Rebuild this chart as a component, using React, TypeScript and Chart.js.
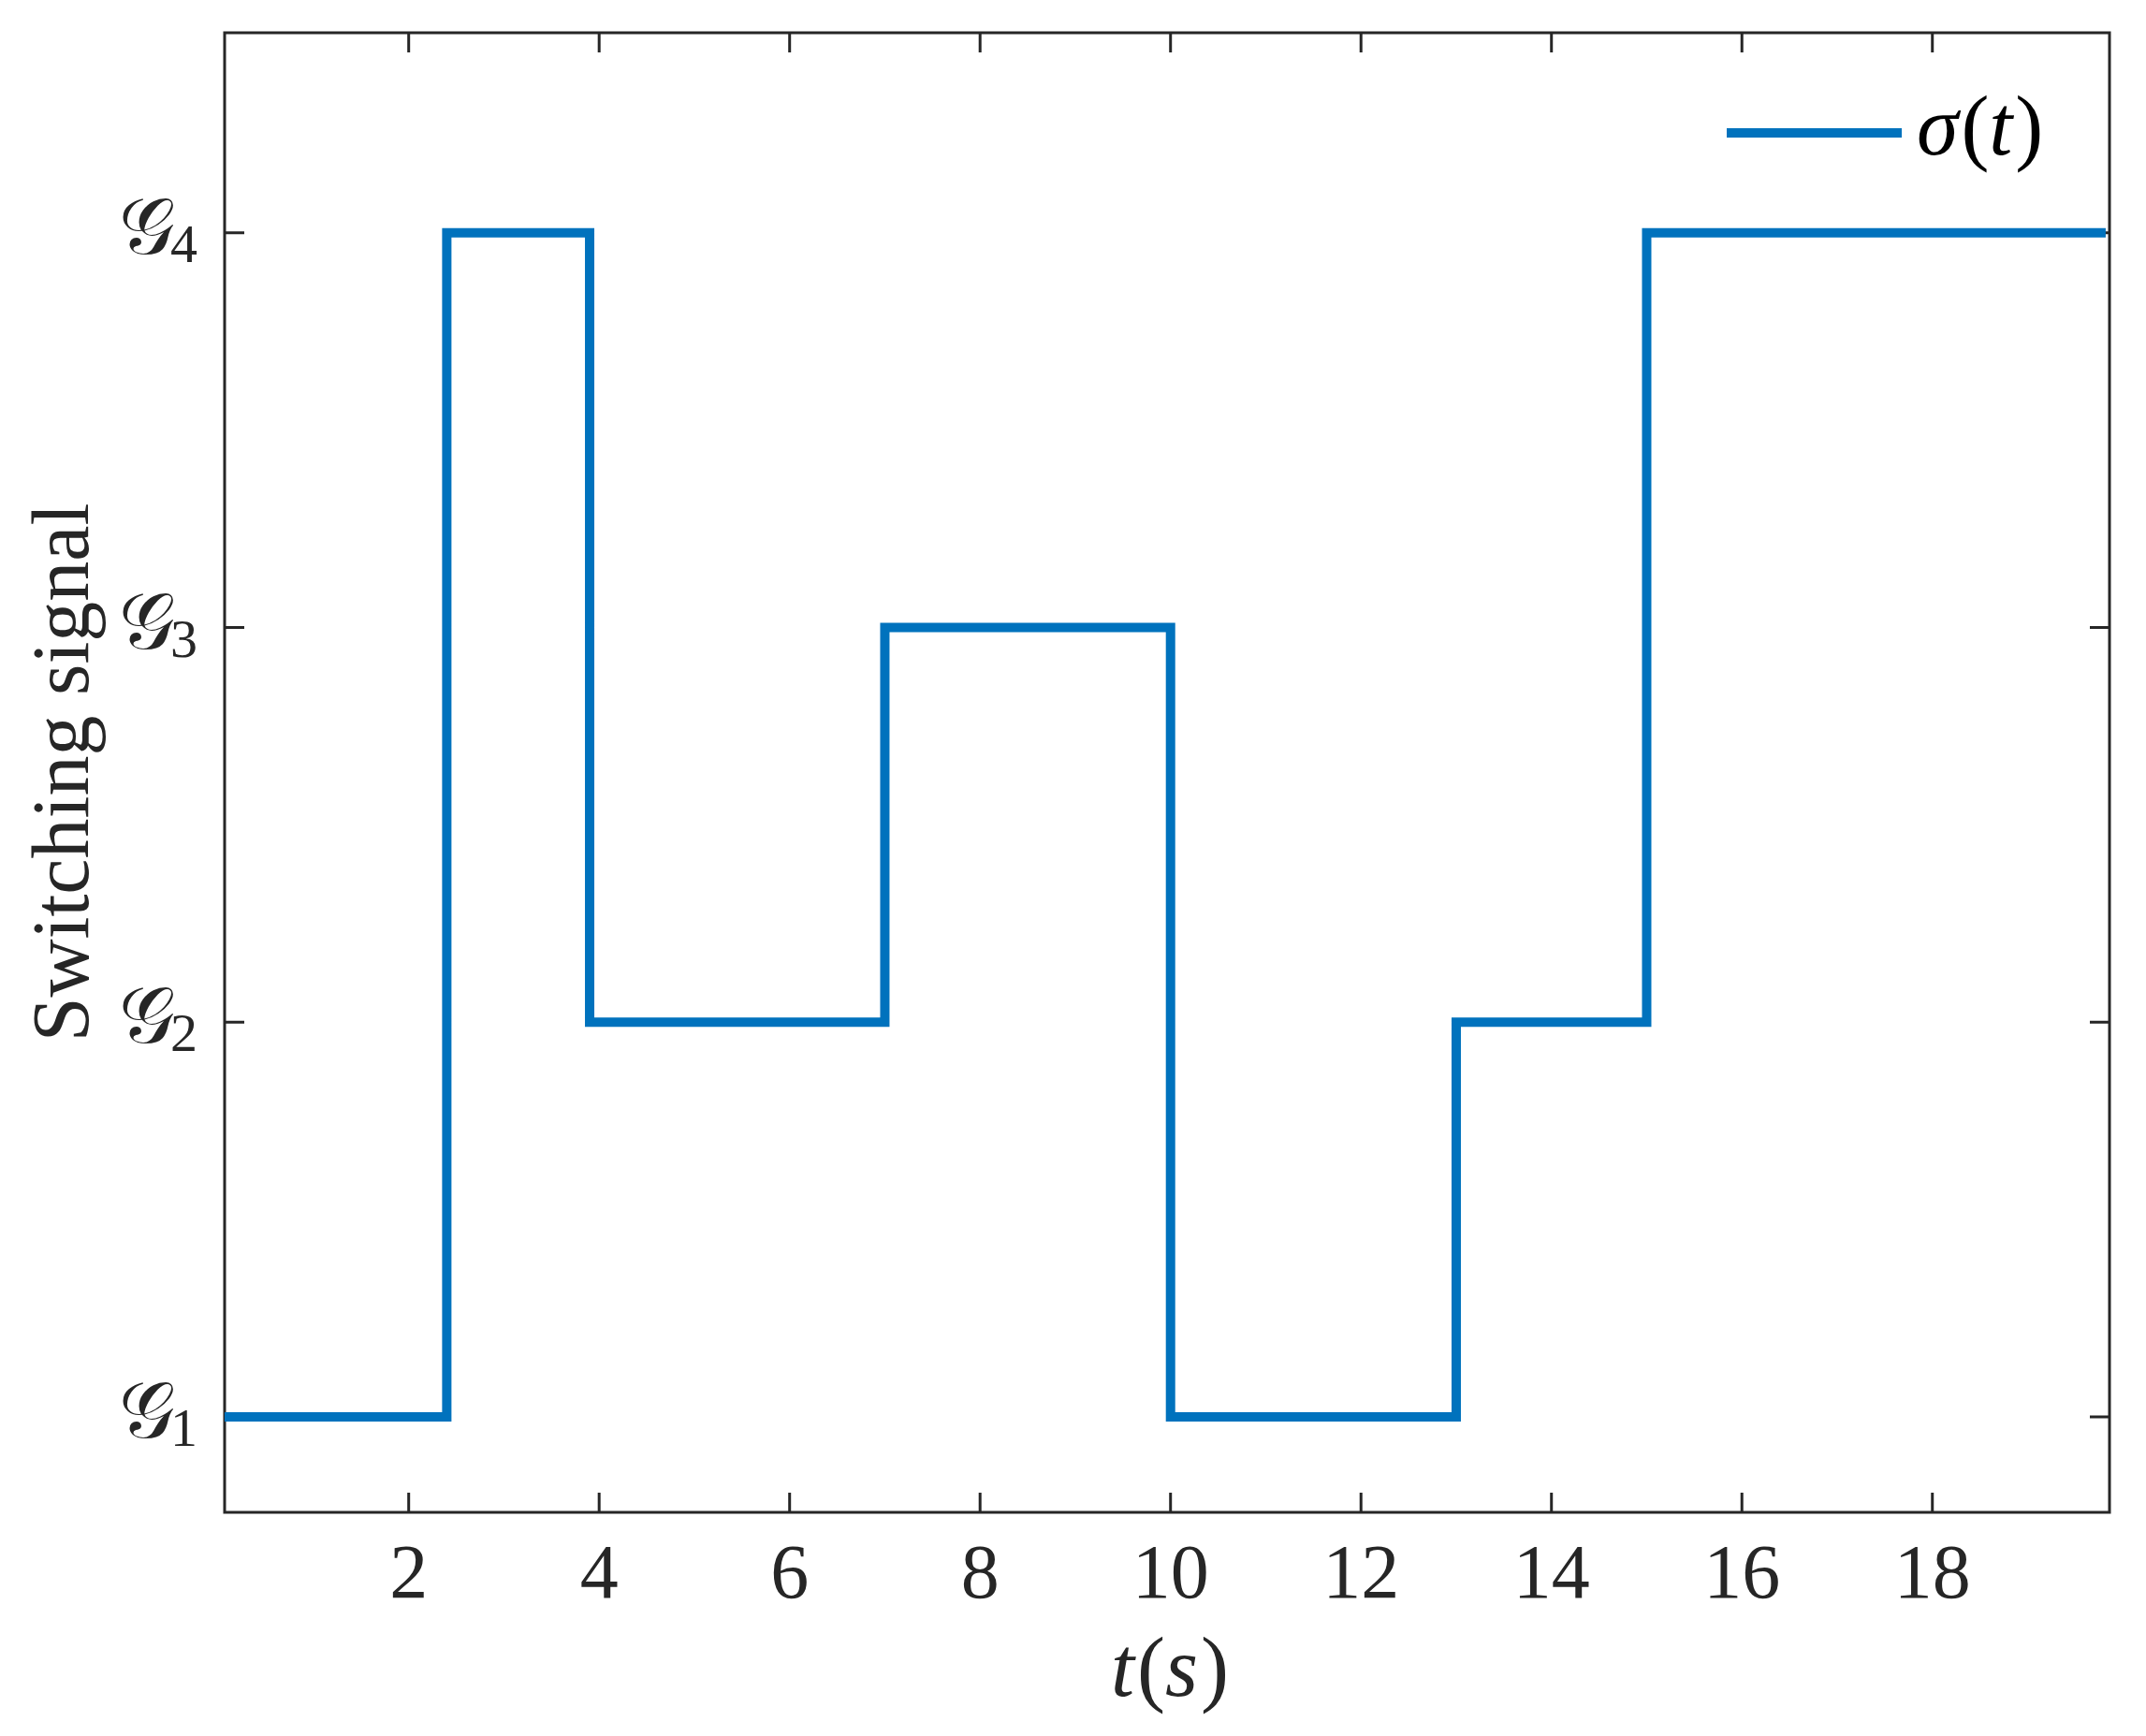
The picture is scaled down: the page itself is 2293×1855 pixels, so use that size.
import React, { useEffect, useRef } from "react";
import { Chart, registerables } from "chart.js";

Chart.register(...registerables);

// ---- data ----
const SWITCH_TIMES = [0.067, 2.4, 3.9, 7, 10, 13, 15, 19.82];
const MODES = [1, 4, 2, 3, 1, 2, 4, 4];
const X_TICKS = [2, 4, 6, 8, 10, 12, 14, 16, 18];
const X_TICK_LABELS = ["2", "4", "6", "8", "10", "12", "14", "16", "18"];
const Y_TICKS = [1, 2, 3, 4];
const Y_TICK_SUBSCRIPTS = ["1", "2", "3", "4"];
const Y_TICK_SYMBOL = "\u{1D4A2}";
const X_LIMITS = [0.067, 19.86];
const Y_LIMITS = [0.758, 4.507];
const SERIES_LABEL = "σ(t)";
const Y_TITLE = "Switching signal";

const LINE_COLOR = "#0072BD";
const AXIS_COLOR = "#262626";
const SERIF = "'Liberation Serif', 'DejaVu Serif', serif";

function drawMixed(ctx: CanvasRenderingContext2D, parts: { t: string; italic: boolean }[], x: number, y: number, size: number, align: "left" | "center") {
  const fonts = parts.map((p) => `${p.italic ? "italic " : ""}${size}px ${SERIF}`);
  let total = 0;
  const widths = parts.map((p, i) => {
    ctx.font = fonts[i];
    const w = ctx.measureText(p.t).width;
    total += w;
    return w;
  });
  let cx = align === "center" ? x - total / 2 : x;
  ctx.textAlign = "left";
  ctx.textBaseline = "alphabetic";
  parts.forEach((p, i) => {
    ctx.font = fonts[i];
    ctx.fillText(p.t, cx, y);
    cx += widths[i] + (p.italic ? 3 : 0);
  });
}

const framePlugin = {
  id: "matlabFrame",
  beforeDatasetsDraw(chart: any) {
    const { ctx, chartArea: a, scales } = chart;
    const xs = scales.x;
    const ys = scales.y;
    ctx.save();
    ctx.strokeStyle = AXIS_COLOR;
    ctx.lineWidth = 3;
    ctx.lineCap = "butt";
    ctx.strokeRect(a.left, a.top, a.right - a.left, a.bottom - a.top);
    const tl = 21;
    ctx.beginPath();
    X_TICKS.forEach((v) => {
      const px = xs.getPixelForValue(v);
      ctx.moveTo(px, a.bottom);
      ctx.lineTo(px, a.bottom - tl);
      ctx.moveTo(px, a.top);
      ctx.lineTo(px, a.top + tl);
    });
    Y_TICKS.forEach((v) => {
      const py = ys.getPixelForValue(v);
      ctx.moveTo(a.left, py);
      ctx.lineTo(a.left + tl, py);
      ctx.moveTo(a.right, py);
      ctx.lineTo(a.right - tl, py);
    });
    ctx.stroke();
    ctx.restore();
  },
  afterDraw(chart: any) {
    const { ctx, chartArea: a, scales } = chart;
    const xs = scales.x;
    const ys = scales.y;
    ctx.save();
    ctx.fillStyle = AXIS_COLOR;
    // x tick labels
    ctx.font = `82px ${SERIF}`;
    ctx.textAlign = "center";
    ctx.textBaseline = "alphabetic";
    X_TICKS.forEach((v, i) => {
      ctx.fillText(X_TICK_LABELS[i], xs.getPixelForValue(v), a.bottom + 91);
    });
    // y tick labels
    Y_TICKS.forEach((v, i) => {
      const py = ys.getPixelForValue(v);
      ctx.textBaseline = "alphabetic";
      ctx.textAlign = "right";
      ctx.font = `58px ${SERIF}`;
      ctx.fillText(Y_TICK_SUBSCRIPTS[i], 211, py + 31);
      ctx.font = `84px ${SERIF}`;
      ctx.fillText(Y_TICK_SYMBOL, 187, py + 22);
    });
    // x title
    drawMixed(ctx, [
      { t: "t", italic: true },
      { t: "(", italic: false },
      { t: "s", italic: true },
      { t: ")", italic: false },
    ], (a.left + a.right) / 2, 1812, 90, "center");
    // y title
    ctx.save();
    ctx.translate(94, (a.top + a.bottom) / 2);
    ctx.rotate(-Math.PI / 2);
    ctx.font = `86px ${SERIF}`;
    ctx.textAlign = "center";
    ctx.textBaseline = "alphabetic";
    ctx.fillText(Y_TITLE, 0, 0);
    ctx.restore();
    // legend
    ctx.strokeStyle = LINE_COLOR;
    ctx.lineWidth = 10;
    ctx.lineCap = "butt";
    ctx.beginPath();
    ctx.moveTo(1845, 142);
    ctx.lineTo(2032, 142);
    ctx.stroke();
    ctx.fillStyle = "#000000";
    const chars = Array.from(SERIES_LABEL);
    drawMixed(ctx, chars.map((c) => ({ t: c, italic: c !== "(" && c !== ")" })), 2048, 165, 90, "left");
    ctx.restore();
  },
};

export default function App() {
  const ref = useRef<HTMLCanvasElement | null>(null);
  useEffect(() => {
    if (!ref.current) return;
    const chart = new Chart(ref.current, {
      type: "line",
      data: {
        datasets: [
          {
            label: SERIES_LABEL,
            data: SWITCH_TIMES.map((t, i) => ({ x: t, y: MODES[i] })),
            stepped: "before",
            borderColor: LINE_COLOR,
            backgroundColor: LINE_COLOR,
            borderWidth: 10,
            pointRadius: 0,
            borderJoinStyle: "miter",
            borderCapStyle: "butt",
            fill: false,
            clip: 0,
          } as any,
        ],
      },
      options: {
        animation: false,
        responsive: false,
        devicePixelRatio: 1,
        layout: { padding: { left: 240, top: 35, right: 39, bottom: 239 } },
        plugins: { legend: { display: false }, tooltip: { enabled: false } },
        scales: {
          x: { type: "linear", min: X_LIMITS[0], max: X_LIMITS[1], display: false },
          y: { type: "linear", min: Y_LIMITS[0], max: Y_LIMITS[1], display: false },
        },
      },
      plugins: [framePlugin],
    });
    return () => chart.destroy();
  }, []);
  return (
    <div style={{ position: "absolute", left: 0, top: 0, width: 2293, height: 1855, background: "#ffffff" }}>
      <canvas ref={ref} width={2293} height={1855} style={{ display: "block" }} />
    </div>
  );
}
